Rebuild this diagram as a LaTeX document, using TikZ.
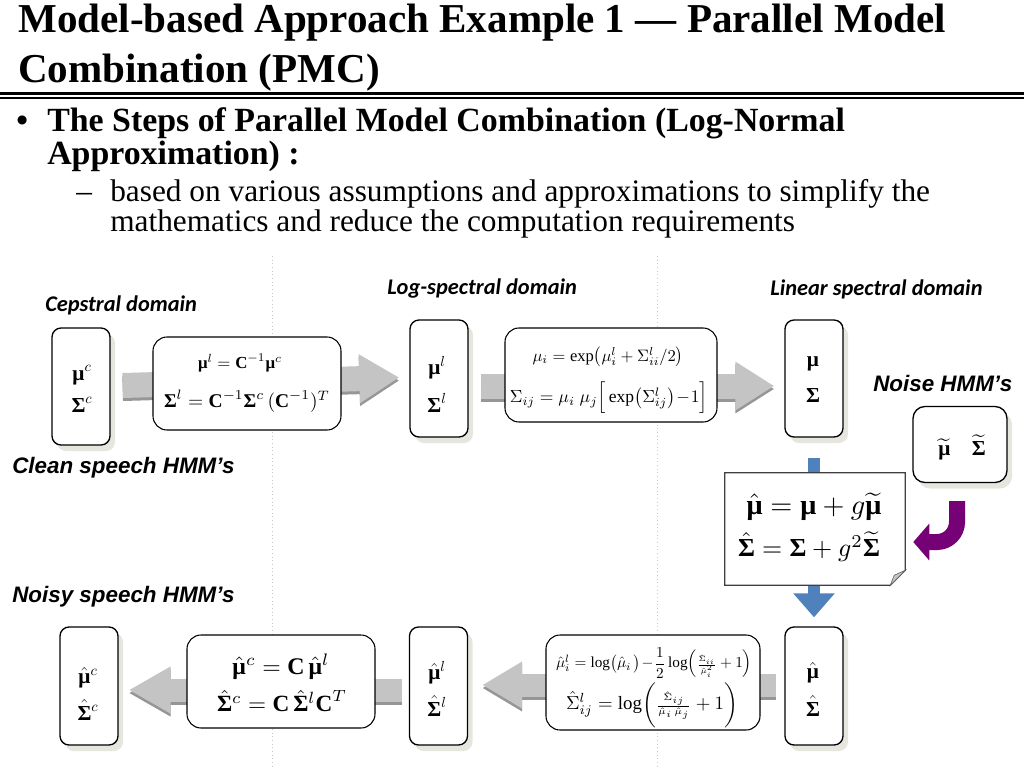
\documentclass[tikz,border=0pt]{standalone}
\usepackage{fontspec}
\setmainfont{Liberation Serif}
\newfontfamily\carlito{Carlito}
\newfontfamily\arialf{Liberation Sans}
\usepackage{amsmath}
\usepackage{graphicx}
\usetikzlibrary{arrows.meta,calc,shadows}
\newdimen\pxu \pxu=0.75pt
\pgfdeclarelayer{bg}
\pgfsetlayers{bg,main}
\newcommand{\fw}[2]{\resizebox{#1\pxu}{!}{#2}}
\newcommand{\bmu}{\mbox{\normalfont\bfseries μ}}
\newcommand{\bSig}{\mbox{\normalfont\bfseries Σ}}
\newcommand{\bC}{\mbox{\normalfont\bfseries C}}
\definecolor{arrgray}{RGB}{196,196,196}
\definecolor{arrdark}{RGB}{150,150,150}
\definecolor{pmcblue}{RGB}{79,129,189}
\definecolor{pmcpurple}{RGB}{118,0,118}
\definecolor{shadowc}{RGB}{230,230,222}
\tikzset{
  tallbox/.style={draw, line width=1pt, rounded corners=6.75pt, fill=white,
    minimum width=43.5pt, minimum height=87.75pt, inner sep=0pt,
    drop shadow={shadow xshift=3.75pt, shadow yshift=-4.5pt, fill=shadowc, opacity=1}},
  formbox/.style={draw, line width=0.8pt, rounded corners=10.5pt, fill=white, inner sep=0pt},
  mtxt/.style={inner sep=0pt, font=\fontsize{16}{18}\selectfont},
  lab/.style={anchor=west, inner sep=0pt, font={\fontsize{16.8}{18}\carlito\bfseries\itshape}},
  alab/.style={anchor=west, inner sep=0pt, font={\fontsize{16.8}{18}\arialf\bfseries\itshape}},
  txt/.style={anchor=base west, inner sep=0pt},
  garrow/.style n args={4}{draw=#1, line width=#2, -{Triangle[length=#4, width=#3]}},
  sepline/.style={draw=black!22, dotted, line width=0.75pt}
}
\begin{document}
\begin{tikzpicture}[x=0.75pt,y=-0.75pt]
\useasboundingbox (0,0) rectangle (1024,768);
% ---- heading
\node[txt, font=\fontsize{30.8}{36}\selectfont\bfseries] (title1) at (18,32) {Model-based Approach Example 1 — Parallel Model};
\node[txt, font=\fontsize{30.8}{36}\selectfont\bfseries] (title2) at (18,82) {Combination (PMC)};
\draw[line width=2.4pt] (0,93.8) -- (1024,93.8);
\draw[line width=0.9pt] (0,98) -- (1024,98);
\node[txt, font=\fontsize{25}{30}\selectfont\bfseries] (bul) at (16,131) {•};
\node[txt, font=\fontsize{25.4}{30}\selectfont\bfseries] (l1) at (47,131) {The Steps of Parallel Model Combination (Log-Normal};
\node[txt, font=\fontsize{25.4}{30}\selectfont\bfseries] (l2) at (47,164) {Approximation) :};
\node[txt, font=\fontsize{23.5}{28}\selectfont] (dsh) at (76,201) {–};
\node[txt, font=\fontsize{23.5}{28}\selectfont] (s1) at (110,201) {based on various assumptions and approximations to simplify the};
\node[txt, font=\fontsize{23.5}{28}\selectfont] (s2) at (110,231) {mathematics and reduce the computation requirements};
% ---- domain labels
\node[lab] (cep) at (45,305) {Cepstral domain};
\node[lab] (logd) at (387,289) {Log-spectral domain};
\node[lab] (lind) at (770,289) {Linear spectral domain};
\node[alab] (noiselab) at (873,383) {Noise HMM’s};
\node[alab] (cleanlab) at (12,468) {Clean speech HMM’s};
\node[alab] (noisylab) at (12,597) {Noisy speech HMM’s};
% ---- top row
\node[tallbox] (A) at (81,386.5) {};
\node[mtxt] (Amu) at (82,375) {$\bmu^c$};
\node[mtxt] (Asig) at (82,405) {$\bSig^c$};
\node[formbox, minimum width=141pt, minimum height=69.75pt] (F1) at (247,383.5) {};
\node[inner sep=0pt] (F1a) at (240,363) {\fw{84}{$\bmu^l = \bC^{-1}\bmu^c$}};
\node[inner sep=0pt] (F1b) at (247,401) {\fw{166}{$\bSig^l = \bC^{-1}\bSig^c\,(\bC^{-1})^T$}};
\node[tallbox] (B) at (439,378.5) {};
\node[mtxt] (Bmu) at (437,368) {$\bmu^l$};
\node[mtxt] (Bsig) at (437,403) {$\bSig^l$};
\node[formbox, minimum width=159pt, minimum height=70.5pt] (F2) at (611,375) {};
\node[inner sep=0pt] (F2a) at (608,357) {\fw{151}{$\mu_i = \exp\!\big(\mu_i^l + \Sigma_{ii}^l/2\big)$}};
\node[inner sep=0pt] (F2b) at (609,398) {\fw{198}{$\Sigma_{ij} = \mu_i\;\mu_j\Big[\exp\!\big(\Sigma_{ij}^l\big)\!-\!1\Big]$}};
\node[tallbox] (C) at (814,378.5) {};
\node[mtxt] (Cmu) at (813,364) {$\bmu$};
\node[mtxt] (Csig) at (813,396) {$\bSig$};
\node[tallbox, minimum width=70.5pt, minimum height=57pt, rounded corners=9pt] (Noise) at (960,444.5) {};
\node[inner sep=0pt, font=\fontsize{16}{18}\selectfont] (Noisetxt) at (962,447) {$\widetilde{\bmu}\quad\widetilde{\bSig}$};
% ---- update note
\node[minimum width=135pt, minimum height=84pt, inner sep=0pt] (Note) at (815,529) {};
\draw[draw=black!75, fill=white, line width=0.8pt] (Note.north west) -- (Note.north east)
  -- ($(Note.south east)+(0,-15)$) -- ($(Note.south east)+(-15,0)$) -- (Note.south west) -- cycle;
\filldraw[fill=black!22, draw=black!60, line width=0.5pt] ($(Note.south east)+(0,-15)$)
  -- ($(Note.south east)+(-15,0)$) -- ($(Note.south east)+(-11,-10)$) -- cycle;
\node[inner sep=0pt] (Notea) at (814,507) {\fw{135}{$\hat{\bmu} = \bmu + g\widetilde{\bmu}$}};
\node[inner sep=0pt] (Noteb) at (809,547) {\fw{142}{$\hat{\bSig} = \bSig + g^2\widetilde{\bSig}$}};
% ---- bottom row
\node[tallbox, minimum height=88.5pt] (D) at (89,686) {};
\node[mtxt] (Dmu) at (88,678) {$\hat{\bmu}{}^c$};
\node[mtxt] (Dsig) at (88,710) {$\hat{\bSig}{}^c$};
\node[formbox, minimum width=141pt, minimum height=69.75pt] (F3) at (281,681.5) {};
\node[inner sep=0pt] (F3a) at (281,667) {\fw{97}{$\hat{\bmu}{}^c = \bC\,\hat{\bmu}{}^l$}};
\node[inner sep=0pt] (F3b) at (282,701) {\fw{130}{$\hat{\bSig}{}^c = \bC\,\hat{\bSig}{}^l\bC^T$}};
\node[tallbox, minimum height=88.5pt] (E) at (438.5,686) {};
\node[mtxt] (Emu) at (437,673) {$\hat{\bmu}{}^l$};
\node[mtxt] (Esig) at (437,706) {$\hat{\bSig}{}^l$};
\node[formbox, minimum width=160.5pt, minimum height=71.25pt] (F4) at (653,682.5) {};
\node[inner sep=0pt] (F4a) at (654,663) {\fw{196}{$\hat{\mu}_i^l = \log\!\big(\hat{\mu}_i\,\big)\!-\!\dfrac{1}{2}\log\!\Big({\scriptstyle\frac{\hat{\Sigma}_{ii}}{\hat{\mu}_i^2}}+1\Big)$}};
\node[inner sep=0pt] (F4b) at (652,705) {\fw{172}{$\hat{\Sigma}_{ij}^l = \log\!\bigg({\scriptstyle\frac{\hat{\Sigma}_{ij}}{\hat{\mu}_i\,\hat{\mu}_j}}+1\bigg)$}};
\node[tallbox, minimum height=88.5pt] (F) at (814,686) {};
\node[mtxt] (Fmu) at (813,673) {$\hat{\bmu}$};
\node[mtxt] (Fsig) at (813,706) {$\hat{\bSig}$};
% ---- background: separators and arrows
\begin{pgfonlayer}{bg}
\draw[sepline] (272,256) -- (272,768);
\draw[sepline] (657,256) -- (657,768);
% top row (left to right)
\draw[garrow={arrdark}{18.75pt}{34.5pt}{30pt}] ($(A.east)+(12,2)$) -- ($(B.west)+(-10,2)$);
\draw[garrow={arrgray}{18.75pt}{34.5pt}{30pt}] ($(A.east)+(12,-1)$) -- ($(B.west)+(-10,-1)$);
\draw[garrow={arrdark}{18.75pt}{34.5pt}{29.25pt}] ($(B.east)+(12,10.5)$) -- ($(C.west)+(-10,10.5)$);
\draw[garrow={arrgray}{18.75pt}{34.5pt}{29.25pt}] ($(B.east)+(12,7.5)$) -- ($(C.west)+(-10,7.5)$);
% bottom row (right to left)
\draw[garrow={arrdark}{17.25pt}{33pt}{30pt}] ($(F.west)+(-8,2)$) -- ($(E.east)+(14,2)$);
\draw[garrow={arrgray}{17.25pt}{33pt}{30pt}] ($(F.west)+(-8,-1)$) -- ($(E.east)+(14,-1)$);
\draw[garrow={arrdark}{17.25pt}{33pt}{31.5pt}] ($(E.west)+(-7,7)$) -- ($(D.east)+(10,7)$);
\draw[garrow={arrgray}{17.25pt}{33pt}{31.5pt}] ($(E.west)+(-7,4)$) -- ($(D.east)+(10,4)$);
% blue: linear spectral model into combination and on to result
\draw[draw=pmcblue, line width=9pt] ($(C.south)+(0,20)$) -- (C.south |- Note.north);
\draw[draw=pmcblue, line width=9pt, -{Triangle[length=18pt, width=30pt]}] (C.south |- Note.south) -- ($(F.north)+(0,-9)$);
\end{pgfonlayer}
% purple: noise model into combination
\draw[draw=pmcpurple, line width=12pt, rounded corners=15pt, -{Triangle[length=12pt, width=27pt]}]
  ($(Noise.south)+(-3,18)$) |- ($(Note.east)+(8,13)$);
\end{tikzpicture}
\end{document}
